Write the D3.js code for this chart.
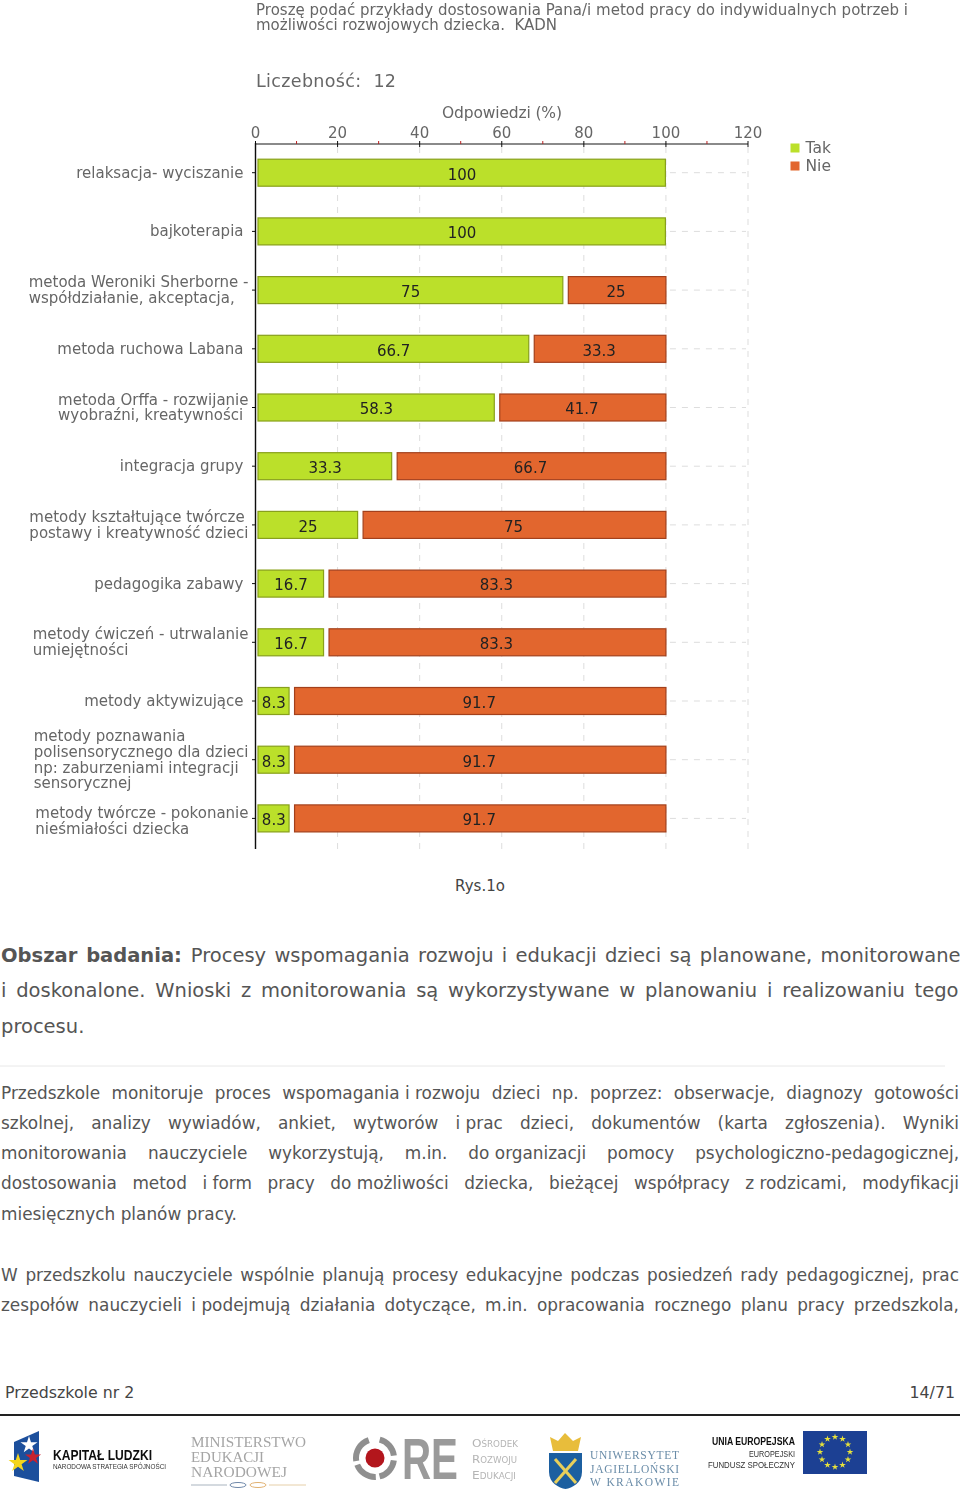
<!DOCTYPE html>
<html><head><meta charset="utf-8">
<script src="https://cdnjs.cloudflare.com/ajax/libs/d3/7.8.5/d3.min.js"></script>
<style>html,body{margin:0;padding:0;background:#fff}svg{display:block}text{font-family:"DejaVu Sans",sans-serif;white-space:pre}</style>
</head><body><svg id="c" width="960" height="1503"></svg>
<script>
const categories=[
 ["relaksacja- wyciszanie"],
 ["bajkoterapia"],
 ["metoda Weroniki Sherborne -","współdziałanie, akceptacja,"],
 ["metoda ruchowa Labana"],
 ["metoda Orffa - rozwijanie","wyobraźni, kreatywności"],
 ["integracja grupy"],
 ["metody kształtujące twórcze","postawy i kreatywność dzieci"],
 ["pedagogika zabawy"],
 ["metody ćwiczeń - utrwalanie","umiejętności"],
 ["metody aktywizujące"],
 ["metody poznawania","polisensorycznego dla dzieci","np: zaburzeniami integracji","sensorycznej"],
 ["metody twórcze - pokonanie","nieśmiałości dziecka"]];
const takValues=[100,100,75,66.7,58.3,33.3,25,16.7,16.7,8.3,8.3,8.3];
const nieValues=[null,null,25,33.3,41.7,66.7,75,83.3,83.3,91.7,91.7,91.7];
const xTicks=[0,20,40,60,80,100,120];
const minorTicks=[10,30,50,70,90,110];
const legendLabels=["Tak","Nie"];
const titleLines=["Proszę podać przykłady dostosowania Pana/i metod pracy do indywidualnych potrzeb i","możliwości rozwojowych dziecka.  KADN"];
const countLabel="Liczebność:  12";
const axisTitle="Odpowiedzi (%)";
const caption="Rys.1o";
const para1=["Procesy wspomagania rozwoju i edukacji dzieci są planowane, monitorowane","i doskonalone. Wnioski z monitorowania są wykorzystywane w planowaniu i realizowaniu tego","procesu."];
const para1Lead="Obszar badania:";
const para2=[
 "Przedszkole monitoruje proces wspomagania~i~rozwoju dzieci np. poprzez: obserwacje, diagnozy gotowości",
 "szkolnej, analizy wywiadów, ankiet, wytworów i~prac dzieci, dokumentów (karta zgłoszenia). Wyniki",
 "monitorowania nauczyciele wykorzystują, m.in. do~organizacji pomocy psychologiczno-pedagogicznej,",
 "dostosowania metod i~form pracy do~możliwości dziecka, bieżącej współpracy z~rodzicami, modyfikacji",
 "miesięcznych planów pracy."];
const para3=[
 "W przedszkolu nauczyciele wspólnie planują procesy edukacyjne podczas posiedzeń rady pedagogicznej, prac",
 "zespołów nauczycieli i~podejmują działania dotyczące, m.in. opracowania rocznego planu pracy przedszkola,"];
const footerLeft="Przedszkole nr 2", footerRight="14/71";

const svg=d3.select("#c");
const defs=svg.append("defs");
defs.append("filter").attr("id","soft").append("feGaussianBlur").attr("stdDeviation",0.35);
const chart=svg.append("g").attr("filter","url(#soft)");
const GRAY="#666", GREEN="#bbe02c", GREEN_S="#88a01a", ORANGE="#e2662f", ORANGE_S="#a3401c";
const x=d3.scaleLinear().domain([0,120]).range([255.5,748]);
const y=d3.scaleBand().domain(d3.range(categories.length)).range([143.35,847.75]);
const cyOf=i=>y(i)+y.bandwidth()/2;
function T(p,s,px,py,size,o={}){
  const t=p.append("text").attr("x",px).attr("y",py).attr("font-size",size).attr("fill",o.fill||GRAY).attr("text-anchor",o.anchor||"start").text(s);
  if(o.family)t.style("font-family",o.family);
  if(o.weight)t.attr("font-weight",o.weight);
  if(o.len)t.attr("textLength",o.len).attr("lengthAdjust",o.glyphs?"spacingAndGlyphs":"spacing");
  return t;
}
// grid
const grid=chart.append("g").attr("stroke","#ddd").attr("stroke-dasharray","6 6").attr("fill","none");
grid.selectAll("line.v").data(xTicks.slice(1)).join("line").attr("x1",d=>x(d)).attr("x2",d=>x(d)).attr("y1",147).attr("y2",849);
grid.selectAll("line.h").data(categories).join("line").attr("x1",x(100)+4).attr("x2",x(120)-2)
  .attr("y1",(d,i)=>cyOf(i)).attr("y2",(d,i)=>cyOf(i));
// bars
const barH=27, x0=x(0)+2.5, endGap=0.5, startGap=5;
const rows=chart.append("g");
rows.selectAll("rect.tak").data(takValues).join("rect").attr("class","tak")
  .attr("x",x0).attr("width",d=>x(d)-endGap-x0).attr("y",(d,i)=>cyOf(i)-barH/2).attr("height",barH)
  .attr("fill",GREEN).attr("stroke",GREEN_S).attr("stroke-width",1.2);
const nieRows=d3.range(nieValues.length).filter(i=>nieValues[i]!=null);
rows.selectAll("rect.nie").data(nieRows).join("rect").attr("class","nie")
  .attr("x",i=>x(takValues[i])+startGap).attr("width",i=>x(takValues[i]+nieValues[i])-x(takValues[i])-startGap)
  .attr("y",i=>cyOf(i)-barH/2).attr("height",barH)
  .attr("fill",ORANGE).attr("stroke",ORANGE_S).attr("stroke-width",1.2);
takValues.forEach((v,i)=>{
  const cy=cyOf(i)+6.8;
  T(rows,String(v),(x0+x(v))/2,cy,15,{fill:"#222",anchor:"middle"});
  if(nieValues[i]!=null) T(rows,String(nieValues[i]),(x(v)+startGap+x(100))/2-1,cy,15,{fill:"#222",anchor:"middle"});
});
// axes
const axis=chart.append("g");
axis.append("line").attr("x1",x(0)).attr("x2",x(120)).attr("y1",144).attr("y2",144).attr("stroke","#111").attr("stroke-width",1.2);
axis.append("line").attr("x1",x(0)).attr("x2",x(0)).attr("y1",143).attr("y2",849).attr("stroke","#111").attr("stroke-width",1.4);
axis.selectAll("line.t").data(xTicks).join("line").attr("x1",d=>x(d)).attr("x2",d=>x(d)).attr("y1",141).attr("y2",147).attr("stroke","#111");
axis.selectAll("line.m").data(minorTicks).join("line").attr("x1",d=>x(d)).attr("x2",d=>x(d)).attr("y1",141).attr("y2",144).attr("stroke","#b22");
axis.selectAll("line.y").data(categories).join("line").attr("x1",252).attr("x2",x(0))
  .attr("y1",(d,i)=>cyOf(i)).attr("y2",(d,i)=>cyOf(i)).attr("stroke","#111");
xTicks.forEach(d=>T(axis,String(d),x(d),138,15,{anchor:"middle"}));
// labels
categories.forEach((lines,i)=>{
  const cy=cyOf(i), lh=15.7, top=cy-(lines.length-1)*lh/2+5+(i===categories.length-1?2.5:0);
  const ts=lines.map((s,k)=>T(chart,s,0,top+k*lh,15));
  const w=d3.max(ts,t=>t.node().getComputedTextLength());
  const left=(lines.length>1?248.5:243.5)-w;
  ts.forEach(t=>t.attr("x",left));
});
// titles
T(chart,titleLines[0],256,15,15,{len:652});
T(chart,titleLines[1],256,30,15,{len:301});
T(chart,countLabel,256,87,17.5,{len:140});
T(chart,axisTitle,442,118,15.5,{len:120});
// legend
const lg=chart.append("g");
lg.selectAll("rect").data(legendLabels).join("rect").attr("x",790.5).attr("width",9).attr("height",9).attr("y",(d,i)=>143.5+i*18).attr("fill",(d,i)=>i?ORANGE:GREEN);
legendLabels.forEach((d,i)=>T(lg,d,805.5,153+i*18,15.5));
// page text
const BODY="#555";
T(svg,caption,480,890.5,15,{anchor:"middle",fill:"#444"});
function justified(segs,py,size,target,lead){
  const t=svg.append("text").attr("x",1).attr("y",py).attr("font-size",size).attr("fill",BODY);
  if(lead) t.append("tspan").attr("font-weight","bold").text(lead+" ");
  const parts=segs.split("~");
  let n=lead?1:0;
  parts.forEach((p,k)=>{
    t.append("tspan").text(p); n+=(p.match(/ /g)||[]).length;
    if(k<parts.length-1) t.append("tspan").style("word-spacing","0px").text(" ");
  });
  if(target){
    const w=t.node().getComputedTextLength();
    t.style("word-spacing",((target-w)/n)+"px");
  }
  return t;
}
para1.forEach((s,i)=>justified(s,962+i*35.3,19.5,i<2?957.5:0,i==0?para1Lead:null));
svg.append("line").attr("x1",0).attr("x2",945).attr("y1",1066).attr("y2",1066).attr("stroke","#e8e8e8");
para2.forEach((s,i)=>justified(s,1098.5+i*30.3,16.9,i<4?958:0));
para3.forEach((s,i)=>justified(s,1280.5+i*30.3,16.9,958));
T(svg,footerLeft,5,1398,15.8,{fill:"#444"});
T(svg,footerRight,955,1398,15.8,{fill:"#444",anchor:"end"});
svg.append("line").attr("x1",0).attr("x2",960).attr("y1",1415).attr("y2",1415).attr("stroke","#222").attr("stroke-width",2);
// logos
const L=svg.append("g").attr("filter","url(#soft)");
const sans="'Liberation Sans',sans-serif", ser="'Liberation Serif',serif";
L.append("path").attr("d","M14,1442L39,1431L39,1482L14,1476Z").attr("fill","#1c4f9c");
const star=d3.symbol().type(d3.symbolStar);
[[29,1445,90,"#fff"],[18,1463,110,"#f4d51f"],[33,1457,80,"#c8202f"]].forEach(s=>L.append("path").attr("d",star.size(s[2])()).attr("transform",`translate(${s[0]},${s[1]})`).attr("fill",s[3]));
T(L,"KAPITAŁ LUDZKI",53,1460,14,{fill:"#111",weight:"bold",len:99,glyphs:1,family:sans});
T(L,"NARODOWA STRATEGIA SPÓJNOŚCI",53,1469,6.5,{fill:"#333",len:113,glyphs:1,family:sans});
T(L,"MINISTERSTWO",191,1447,15,{fill:"#a5a5a5",family:ser,len:115,glyphs:1});
T(L,"EDUKACJI",191,1462,15,{fill:"#a5a5a5",family:ser,len:73,glyphs:1});
T(L,"NARODOWEJ",191,1477,15,{fill:"#a5a5a5",family:ser,len:96,glyphs:1});
L.append("line").attr("x1",191).attr("x2",227).attr("y1",1485).attr("y2",1485).attr("stroke","#a9b4bf");
L.append("line").attr("x1",269).attr("x2",306).attr("y1",1485).attr("y2",1485).attr("stroke","#e6cfa8");
L.append("ellipse").attr("cx",238).attr("cy",1485).attr("rx",8).attr("ry",2.5).attr("fill","none").attr("stroke","#6d87a8");
L.append("ellipse").attr("cx",258).attr("cy",1485).attr("rx",8).attr("ry",2.5).attr("fill","none").attr("stroke","#e0b070");
const arc=d3.arc().innerRadius(16).outerRadius(22);
[[0.25,1.45],[1.7,2.9],[3.1,4.35],[4.55,5.95]].forEach(a=>L.append("path").attr("d",arc({startAngle:a[0],endAngle:a[1]})).attr("transform","translate(375,1458)").attr("fill","#8f8f8f"));
L.append("circle").attr("cx",375).attr("cy",1458).attr("r",9.5).attr("fill","#b3121d");
const re=T(L,"RE",0,0,57,{fill:"#9a9a9a",weight:"bold",family:sans});
re.attr("transform",`translate(402,1479) scale(${56/re.node().getComputedTextLength()},1)`);
["Ośrodek","Rozwoju","Edukacji"].forEach((s,i)=>T(L,s,472,1447+i*16,11,{fill:"#b5b5b5",len:[46,45,44][i],glyphs:1}).style("font-variant","small-caps"));
L.append("path").attr("d","M550,1437L558,1441L565,1433L573,1441L581,1437L578,1451L553,1451Z").attr("fill","#e8bd3a");
L.append("path").attr("d","M549,1453H582V1472C582,1483 572,1488 565.5,1489C559,1488 549,1483 549,1472Z").attr("fill","#1f5fa0");
L.append("path").attr("d","M555,1459L576,1483M576,1459L555,1483").attr("stroke","#e8cf5a").attr("stroke-width",3);
["UNIWERSYTET","JAGIELLOŃSKI","W KRAKOWIE"].forEach((s,i)=>T(L,s,590,1459+i*13.7,11.5,{fill:"#6a8ca8",family:ser,len:89}));
T(L,"UNIA EUROPEJSKA",712,1445,10,{fill:"#111",weight:"bold",family:sans,len:83,glyphs:1});
T(L,"EUROPEJSKI",749,1456.5,9.5,{fill:"#333",family:sans,len:46,glyphs:1});
T(L,"FUNDUSZ SPOŁECZNY",708,1467.5,9.5,{fill:"#333",family:sans,len:87,glyphs:1});
L.append("rect").attr("x",803).attr("y",1431).attr("width",64).attr("height",43).attr("fill","#1d3f93");
d3.range(12).forEach(k=>{const a=k*Math.PI/6;L.append("path").attr("d",star.size(14)()).attr("transform",`translate(${835+15*Math.sin(a)},${1452-15*Math.cos(a)})`).attr("fill","#e6e23a")});
</script></body></html>
